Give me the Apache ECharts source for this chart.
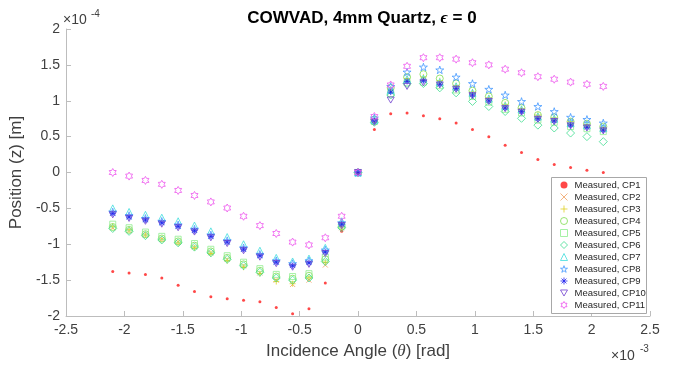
<!DOCTYPE html>
<html>
<head>
<meta charset="utf-8">
<script src="https://cdn.jsdelivr.net/npm/echarts@6/dist/echarts.min.js"></script>
<style>html,body{margin:0;padding:0;background:#fff;}#c{width:682px;height:366px;}</style>
</head>
<body>
<div id="c"></div>
<script>
// Incidence angle, units of 1e-3 rad
const angles = [-2.1,-1.96,-1.82,-1.68,-1.54,-1.4,-1.26,-1.12,-0.98,-0.84,-0.7,-0.56,-0.42,-0.28,-0.14,0,0.14,0.28,0.42,0.56,0.7,0.84,0.98,1.12,1.26,1.4,1.54,1.68,1.82,1.96,2.1];
// Position (z), units of 1e-4 m
const cp1  = [-1.38,-1.40,-1.42,-1.47,-1.57,-1.66,-1.73,-1.76,-1.78,-1.80,-1.88,-1.97,-1.90,-1.54,-0.82,0,0.60,0.82,0.83,0.79,0.75,0.69,0.60,0.50,0.38,0.28,0.18,0.11,0.07,0.03,0.00];
const cp2  = [-0.77,-0.81,-0.87,-0.93,-0.97,-1.04,-1.12,-1.21,-1.30,-1.40,-1.50,-1.56,-1.50,-1.29,-0.77,0,0.70,1.13,1.28,1.30,1.25,1.18,1.09,1.01,0.92,0.86,0.77,0.73,0.68,0.64,0.60];
const cp3  = [-0.75,-0.80,-0.87,-0.93,-0.98,-1.05,-1.13,-1.23,-1.32,-1.41,-1.52,-1.55,-1.46,-1.25,-0.76,0,0.73,1.16,1.31,1.33,1.28,1.21,1.12,1.04,0.95,0.89,0.80,0.76,0.71,0.67,0.63];
const cp4  = [-0.76,-0.80,-0.86,-0.92,-0.96,-1.02,-1.10,-1.19,-1.28,-1.37,-1.45,-1.48,-1.44,-1.21,-0.75,0,0.74,1.18,1.33,1.37,1.31,1.24,1.14,1.06,0.97,0.90,0.80,0.77,0.71,0.68,0.64];
const cp5  = [-0.72,-0.77,-0.83,-0.89,-0.93,-0.99,-1.07,-1.16,-1.25,-1.34,-1.42,-1.45,-1.41,-1.18,-0.73,0,0.71,1.10,1.25,1.26,1.21,1.15,1.06,0.98,0.88,0.83,0.73,0.70,0.64,0.61,0.57];
const cp6  = [-0.78,-0.82,-0.88,-0.94,-0.98,-1.04,-1.12,-1.21,-1.30,-1.39,-1.47,-1.50,-1.47,-1.24,-0.77,0,0.70,1.08,1.24,1.24,1.18,1.11,0.99,0.92,0.85,0.755,0.66,0.62,0.55,0.50,0.43];
const cp7  = [-0.50,-0.55,-0.59,-0.63,-0.68,-0.74,-0.82,-0.90,-1.00,-1.09,-1.19,-1.24,-1.20,-1.05,-0.68,0,0.73,1.15,1.30,1.31,1.26,1.20,1.11,1.03,0.93,0.88,0.78,0.75,0.69,0.66,0.62];
const cp8  = [-0.55,-0.60,-0.64,-0.68,-0.73,-0.79,-0.87,-0.95,-1.05,-1.14,-1.23,-1.27,-1.23,-1.08,-0.70,0,0.76,1.20,1.40,1.47,1.43,1.33,1.24,1.16,1.08,0.99,0.92,0.85,0.77,0.74,0.69];
const cp9  = [-0.57,-0.62,-0.66,-0.70,-0.75,-0.81,-0.89,-0.97,-1.07,-1.16,-1.25,-1.30,-1.26,-1.11,-0.72,0,0.72,1.12,1.27,1.28,1.23,1.17,1.08,1.00,0.90,0.85,0.75,0.72,0.66,0.63,0.59];
const cp10 = [-0.59,-0.64,-0.68,-0.72,-0.77,-0.83,-0.91,-0.99,-1.09,-1.18,-1.27,-1.32,-1.28,-1.13,-0.74,0,0.70,1.01,1.20,1.25,1.22,1.16,1.07,0.99,0.89,0.84,0.74,0.71,0.65,0.62,0.58];
const cp11 = [0.00,-0.05,-0.11,-0.165,-0.25,-0.32,-0.41,-0.495,-0.61,-0.74,-0.85,-0.97,-1.01,-0.91,-0.61,0,0.78,1.22,1.48,1.60,1.60,1.58,1.53,1.50,1.44,1.39,1.335,1.30,1.26,1.23,1.20];

const seriesNames = ['Measured, CP1','Measured, CP2','Measured, CP3','Measured, CP4','Measured, CP5','Measured, CP6','Measured, CP7','Measured, CP8','Measured, CP9','Measured, CP10','Measured, CP11'];
const seriesValues = [cp1,cp2,cp3,cp4,cp5,cp6,cp7,cp8,cp9,cp10,cp11];
const xTickLabels = ['-2.5','-2','-1.5','-1','-0.5','0','0.5','1','1.5','2','2.5'];
const yTickLabels = ['-2','-1.5','-1','-0.5','0','0.5','1','1.5','2'];

const P = {
  xmark: 'path://M0,0L10,10M10,0L0,10',
  plus: 'path://M5,0L5,10M0,5L10,5',
  aster: 'path://M5,0L5,10M0,5L10,5M1.5,1.5L8.5,8.5M8.5,1.5L1.5,8.5',
  tdown: 'path://M0,0L10,0L5,8.66Z',
  penta: 'path://M50,0L61.23,34.55L97.55,34.55L68.17,55.9L79.39,90.45L50,69.1L20.61,90.45L31.83,55.9L2.45,34.55L38.77,34.55Z',
  hexa: 'path://M50,0L64.43,25L93.3,25L78.87,50L93.3,75L64.43,75L50,100L35.57,75L6.7,75L21.13,50L6.7,25L35.57,25Z'
};
const styles = [
  {sym:'circle', size:3, color:'#ff1a1a', fill:true},
  {sym:P.xmark, size:5, color:'#f0a060'},
  {sym:P.plus, size:6, color:'#e0d020'},
  {sym:'circle', size:7, color:'#80dd50'},
  {sym:'rect', size:6, color:'#90ee90'},
  {sym:'diamond', size:8, color:'#40dd90'},
  {sym:'triangle', size:7, color:'#40dddd'},
  {sym:P.penta, size:8, color:'#4499ff'},
  {sym:P.aster, size:6, color:'#2020ee'},
  {sym:P.tdown, size:7, color:'#7040d0'},
  {sym:P.hexa, size:8, color:'#ee55ee'}
];

const font = 'Liberation Sans, Arial, Helvetica, sans-serif';
const styleOf = (s) => s.fill ? {color: s.color} : {color: 'rgba(255,255,255,0)', borderColor: s.color, borderWidth: 1};
const series = seriesNames.map((name, k) => {
  const s = styles[k];
  return {
    name: name,
    type: 'scatter',
    symbol: s.sym,
    symbolSize: s.size,
    symbolKeepAspect: true,
    data: angles.map((x, i) => [x, seriesValues[k][i]]),
    itemStyle: styleOf(s),
    emphasis: {disabled: true},
    animation: false
  };
});

const legendLeft = 551, legendTop = 177, rowH = 12;
const legendBox = {
  type: 'rect', left: legendLeft, top: legendTop, z: 10,
  shape: {width: 95, height: rowH * seriesNames.length + 4},
  style: {fill: '#ffffff', stroke: '#a8a8a8', lineWidth: 1}
};

const chart = echarts.init(document.getElementById('c'), null, {renderer: 'canvas'});
chart.setOption({
  animation: false,
  backgroundColor: '#ffffff',
  title: {
    text: '{b|COWVAD, 4mm Quartz, }{e|ϵ}{b| = 0}',
    left: 357, top: 5, textAlign: 'center',
    textStyle: {
      rich: {
        b: {fontFamily: font, fontWeight: 'bold', fontSize: 17, color: '#000'},
        e: {fontFamily: 'Liberation Serif, serif', fontStyle: 'italic', fontSize: 17, color: '#000'}
      }
    }
  },
  grid: {left: 63, right: 32, top: 29, bottom: 50, containLabel: false},
  xAxis: {
    type: 'value', min: -2.5, max: 2.5, interval: 0.5,
    name: 'Incidence Angle ({t|θ}) [rad]',
    nameLocation: 'middle', nameGap: 27,
    nameTextStyle: {fontFamily: font, fontSize: 17, color: '#404040',
      rich: {t: {fontFamily: 'Liberation Serif, serif', fontStyle: 'italic', fontSize: 17, color: '#404040'}}},
    axisLine: {onZero: false, lineStyle: {color: '#bdbdbd', width: 1}},
    axisTick: {inside: true, length: 5, lineStyle: {color: '#bdbdbd'}},
    axisLabel: {fontFamily: font, fontSize: 14, color: '#404040', margin: 7,
      formatter: (v) => xTickLabels[Math.round((v + 2.5) / 0.5)]},
    splitLine: {show: false}
  },
  yAxis: {
    type: 'value', min: -2, max: 2, interval: 0.5,
    name: 'Position (z) [m]',
    nameLocation: 'middle', nameGap: 33,
    nameTextStyle: {fontFamily: font, fontSize: 17, color: '#404040'},
    axisLine: {onZero: false, lineStyle: {color: '#bdbdbd', width: 1}},
    axisTick: {inside: true, length: 5, lineStyle: {color: '#bdbdbd'}},
    axisLabel: {fontFamily: font, fontSize: 14, color: '#404040', margin: 6,
      formatter: (v) => yTickLabels[Math.round((v + 2) / 0.5)]},
    splitLine: {show: false}
  },
  legend: {
    orient: 'vertical', left: legendLeft, top: legendTop, z: 11,
    padding: [2, 4, 2, 9], itemGap: 0, itemWidth: 7, itemHeight: 7,
    backgroundColor: 'transparent', borderWidth: 0,
    textStyle: {fontFamily: font, fontSize: 9.5, color: '#262626', lineHeight: 12, padding: [0, 0, 0, 2]},
    data: seriesNames.map((n, k) => ({
      name: n, icon: styles[k].sym,
      itemStyle: styleOf(styles[k])
    }))
  },
  graphic: [
    legendBox,
    {type: 'text', left: 63, top: 13, style: {text: '×10', fontFamily: font, fontSize: 14, fill: '#404040'}},
    {type: 'text', left: 91, top: 9, style: {text: '-4', fontFamily: font, fontSize: 10, fill: '#404040'}},
    {type: 'text', left: 611, top: 349, style: {text: '×10', fontFamily: font, fontSize: 14, fill: '#404040'}},
    {type: 'text', left: 640, top: 344, style: {text: '-3', fontFamily: font, fontSize: 10, fill: '#404040'}}
  ],
  series: series
});
</script>
</body>
</html>
